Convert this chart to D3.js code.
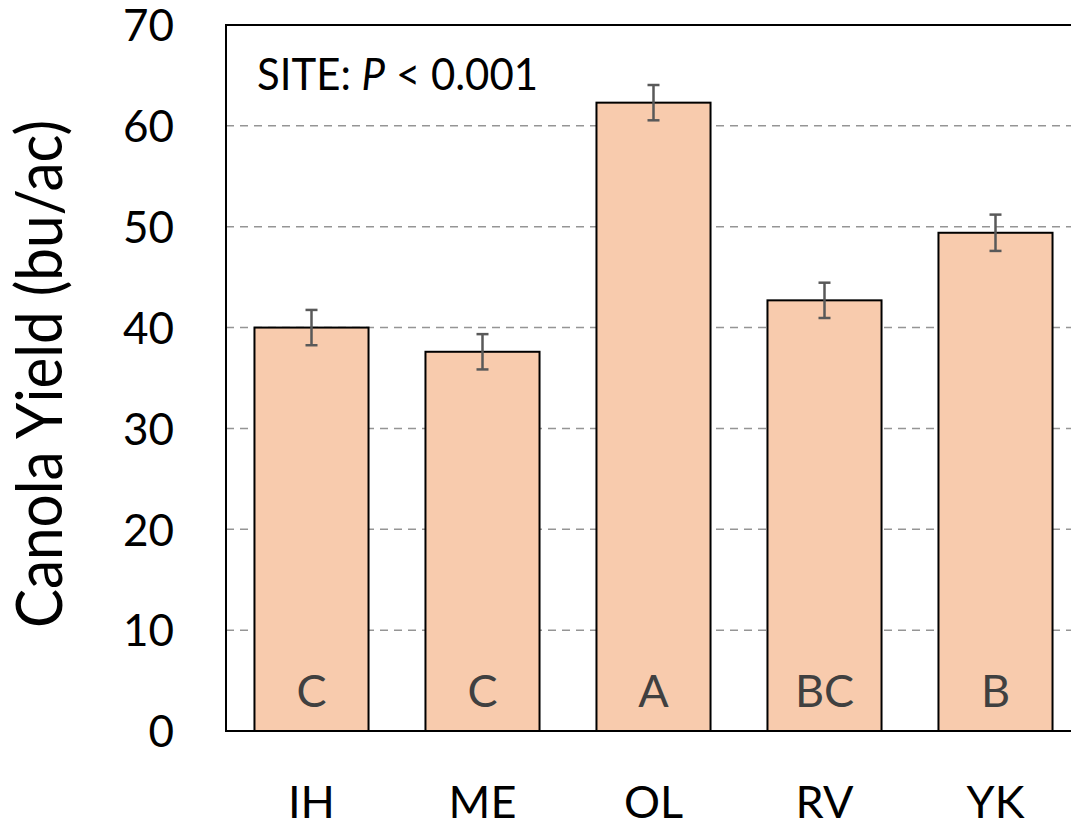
<!DOCTYPE html>
<html>
<head>
<meta charset="utf-8">
<script src="https://cdn.jsdelivr.net/npm/d3@7"></script>
<style>
  html, body { margin: 0; padding: 0; background: #fff; overflow: hidden; }
  svg { display: block; font-family: Lato, "Open Sans", sans-serif; }
</style>
</head>
<body>
<svg id="chart" width="1071" height="823"></svg>
<script>
// Canola yield by site with standard errors and mean-separation letters
const sites = ["IH", "ME", "OL", "RV", "YK"];
const yieldMean = [40.0, 37.6, 62.3, 42.7, 49.4];
const yieldSE = [1.75, 1.75, 1.75, 1.75, 1.8];
const groupLetters = ["C", "C", "A", "BC", "B"];
const yTicks = [0, 10, 20, 30, 40, 50, 60, 70];

const svg = d3.select("#chart");
const plot = { left: 226, right: 1081, top: 25, bottom: 731 };

const x = d3.scaleBand()
  .domain(sites)
  .range([plot.left, plot.right])
  .paddingInner(0.333)
  .paddingOuter(0.1665);

const y = d3.scaleLinear()
  .domain([0, 70])
  .range([plot.bottom, plot.top]);

// dashed gridlines
svg.append("g")
  .selectAll("line")
  .data(yTicks.filter(t => t > 0 && t < 70))
  .join("line")
  .attr("x1", plot.left).attr("x2", plot.right)
  .attr("y1", d => y(d)).attr("y2", d => y(d))
  .attr("stroke", "#959595")
  .attr("stroke-width", 1.5)
  .attr("stroke-dasharray", "8,6");

// y axis labels
const yAxis = d3.axisLeft(y).tickValues(yTicks).tickSize(0).tickPadding(52);
const gy = svg.append("g")
  .attr("transform", `translate(${plot.left},0)`)
  .call(yAxis);
gy.select(".domain").remove();
gy.selectAll("text")
  .attr("font-size", 44)
  .attr("fill", "#000")
  .attr("dy", "0.36em")
  .style("font-family", "Lato, 'Open Sans', sans-serif");

// x axis labels
const xAxis = d3.axisBottom(x).tickSize(0).tickPadding(0);
const gx = svg.append("g")
  .attr("transform", `translate(0,${plot.bottom})`)
  .call(xAxis);
gx.select(".domain").remove();
gx.selectAll("text")
  .attr("font-size", 45)
  .attr("fill", "#000")
  .attr("y", 87)
  .attr("dy", 0)
  .style("font-family", "Lato, 'Open Sans', sans-serif");

// bars
svg.append("g")
  .selectAll("rect")
  .data(sites)
  .join("rect")
  .attr("x", d => x(d))
  .attr("width", x.bandwidth())
  .attr("y", (d, i) => y(yieldMean[i]))
  .attr("height", (d, i) => y(0) - y(yieldMean[i]))
  .attr("fill", "#F8CBAD")
  .attr("stroke", "#000")
  .attr("stroke-width", 2);

// error bars
const eb = svg.append("g")
  .attr("stroke", "#595959")
  .attr("stroke-width", 2.5);
sites.forEach((s, i) => {
  const cx = x(s) + x.bandwidth() / 2;
  const hi = y(yieldMean[i] + yieldSE[i]);
  const lo = y(yieldMean[i] - yieldSE[i]);
  eb.append("line").attr("x1", cx).attr("x2", cx).attr("y1", hi).attr("y2", lo);
  eb.append("line").attr("x1", cx - 6).attr("x2", cx + 6).attr("y1", hi).attr("y2", hi);
  eb.append("line").attr("x1", cx - 6).attr("x2", cx + 6).attr("y1", lo).attr("y2", lo);
});

// letters inside bars
svg.append("g")
  .selectAll("text")
  .data(sites)
  .join("text")
  .attr("x", d => x(d) + x.bandwidth() / 2)
  .attr("y", y(0) - 24)
  .attr("text-anchor", "middle")
  .attr("font-size", 45)
  .attr("fill", "#404040")
  .text((d, i) => groupLetters[i]);

// axis frame: left, top and bottom lines
svg.append("path")
  .attr("d", `M${plot.right},${plot.top}H${plot.left}V${plot.bottom}H${plot.right}`)
  .attr("fill", "none")
  .attr("stroke", "#000")
  .attr("stroke-width", 2);

// significance note
const note = svg.append("text")
  .attr("x", 257)
  .attr("y", 90)
  .attr("font-size", 44)
  .attr("fill", "#000")
  .attr("textLength", 281)
  .attr("lengthAdjust", "spacingAndGlyphs");
note.append("tspan").text("SITE: ");
note.append("tspan").attr("font-style", "italic").text("P");
note.append("tspan").text(" < 0.001");

// y axis title
svg.append("text")
  .attr("transform", `translate(62,374) rotate(-90)`)
  .attr("text-anchor", "middle")
  .attr("font-size", 64)
  .attr("fill", "#000")
  .attr("textLength", 508)
  .attr("lengthAdjust", "spacingAndGlyphs")
  .text("Canola Yield (bu/ac)");
</script>
</body>
</html>
